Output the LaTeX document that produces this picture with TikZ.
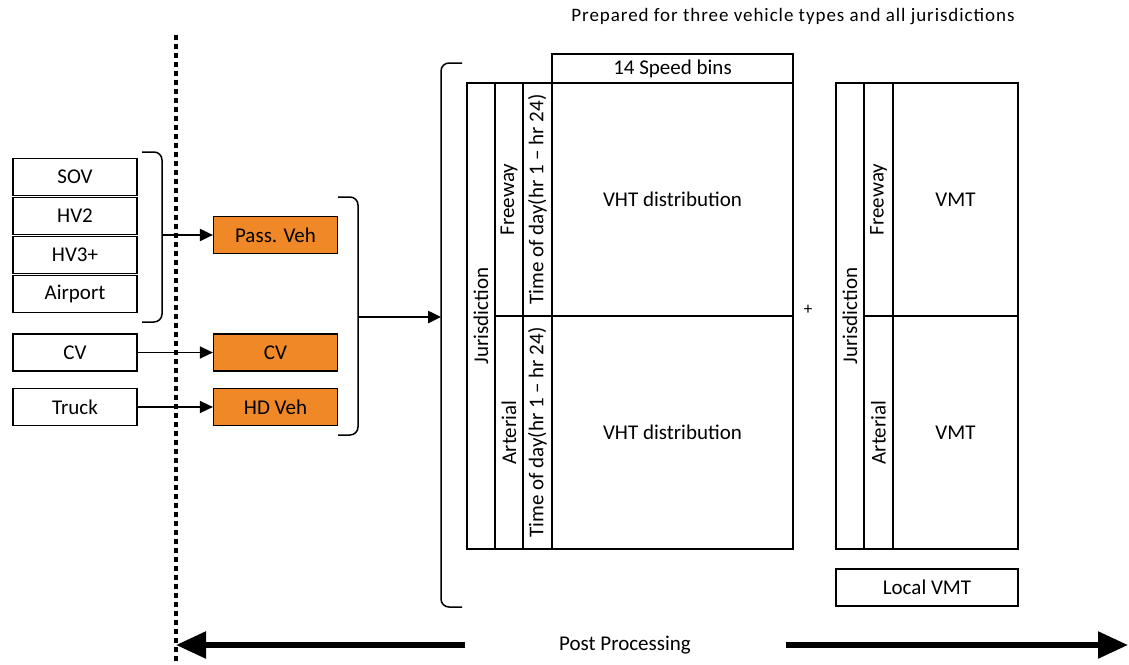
\documentclass[tikz,border=0pt]{standalone}
\usepackage{fontspec}
\setmainfont{Carlito}
\usepackage{tikz}
\usetikzlibrary{arrows.meta}
\definecolor{vehorange}{RGB}{240,136,40}

\begin{document}
\begin{tikzpicture}[x=1pt,y=-1pt,
  every node/.style={font=\fontsize{21}{25}\selectfont},
  veh_node/.style={draw,line width=1.2pt,minimum width=124pt,minimum height=37pt,inner sep=0pt},
  mode_node/.style={veh_node,fill=vehorange},
  cell_node/.style={draw,line width=2.2pt,inner sep=0pt},
  brace_line/.style={line width=1.5pt,rounded corners=8pt},
  small_arrow/.style={line width=1.5pt,-{Triangle[length=13pt,width=12pt]}},
  big_arrow/.style={line width=5.5pt,-{Triangle[length=30pt,width=26pt]}}]

    \useasboundingbox (0,0) rectangle (1129,664);

    % title
    \node[font=\fontsize{19}{22}\selectfont\addfontfeature{LetterSpace=5}] (title) at (793,17) {Prepared for three vehicle types and all jurisdictions};

    % input vehicle classes
    \node[veh_node] (sov) at (75,177) {SOV};
    \node[veh_node] (hv2) at (75,216) {HV2};
    \node[veh_node] (hv3) at (75,255) {HV3+};
    \node[veh_node] (air) at (75,294) {Airport};
    \node[veh_node] (cvin) at (75,352.5) {CV};
    \node[veh_node] (truck) at (75,407) {Truck};

    % grouped vehicle types
    \node[mode_node] (pass) at (275.5,235) {Pass. Veh};
    \node[mode_node] (cvout) at (275.5,352.5) {CV};
    \node[mode_node] (hdv) at (275.5,407) {HD Veh};

    % dotted divider
    \coordinate (dtop) at (176,35);
    \coordinate (dbot) at (176,664);
    \draw[line width=3.5pt,dash pattern=on 5pt off 4pt] (dtop) -- (dbot);

    % braces
    \draw[brace_line] (142,152) -- (162,152) -- (162,322) -- (142,322);
    \coordinate (lbrace) at (162,235);
    \draw[brace_line] (338,197) -- (358,197) -- (358,435) -- (338,435);
    \coordinate (rbrace) at (358,317);
    \draw[brace_line] (462,63) -- (441,63) -- (441,607) -- (462,607);
    \coordinate (bracket) at (441,317);

    \draw[small_arrow,line width=2pt] (lbrace) -- (pass.west);
    \draw[small_arrow] (cvin.east) -- (cvout.west);
    \draw[small_arrow] (truck.east) -- (hdv.west);
    \draw[small_arrow,line width=2.5pt] (rbrace) -- (bracket);

    % VHT table
    \node[cell_node,minimum width=241pt,minimum height=29pt] (bins) at (672.5,68.5) {14 Speed bins};
    \node[cell_node,minimum width=28pt,minimum height=466pt] (jur1) at (481,316) {\rotatebox{90}{Jurisdiction}};
    \node[cell_node,minimum width=28pt,minimum height=233pt] (fw1) at (509,199.5) {\rotatebox{90}{Freeway}};
    \node[cell_node,minimum width=28pt,minimum height=233pt] (ar1) at (509,432.5) {\rotatebox{90}{Arterial}};
    \node[cell_node,minimum width=29pt,minimum height=233pt] (tf1) at (537.5,199.5) {\rotatebox{90}{Time of day(hr 1 -- hr 24)}};
    \node[cell_node,minimum width=29pt,minimum height=233pt] (ta1) at (537.5,432.5) {\rotatebox{90}{Time of day(hr 1 -- hr 24)}};
    \node[cell_node,minimum width=241pt,minimum height=233pt] (vht1) at (672.5,199.5) {VHT distribution};
    \node[cell_node,minimum width=241pt,minimum height=233pt] (vht2) at (672.5,432.5) {VHT distribution};

    \node[font=\fontsize{17}{20}\selectfont] (plus) at (808,310) {+};

    % VMT table
    \node[cell_node,minimum width=28pt,minimum height=466pt] (jur2) at (850,316) {\rotatebox{90}{Jurisdiction}};
    \node[cell_node,minimum width=29pt,minimum height=233pt] (fw2) at (878.5,199.5) {\rotatebox{90}{Freeway}};
    \node[cell_node,minimum width=29pt,minimum height=233pt] (ar2) at (878.5,432.5) {\rotatebox{90}{Arterial}};
    \node[cell_node,minimum width=125pt,minimum height=233pt] (vmt1) at (955.5,199.5) {VMT};
    \node[cell_node,minimum width=125pt,minimum height=233pt] (vmt2) at (955.5,432.5) {VMT};
    \node[veh_node,minimum width=182pt] (local) at (927,587.5) {Local VMT};

    % post processing span
    \node (post) at (625,645) {Post Processing};
    \coordinate (ppl) at (465,645);
    \coordinate (ppltip) at (176,645);
    \coordinate (ppr) at (786,645);
    \coordinate (pprtip) at (1128,645);
    \draw[big_arrow] (ppl) -- (ppltip);
    \draw[big_arrow] (ppr) -- (pprtip);

    \end{tikzpicture}
\end{document}
